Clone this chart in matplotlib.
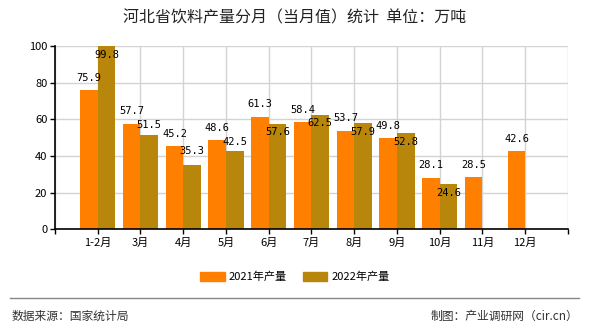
import matplotlib
matplotlib.use("Agg")
import matplotlib.pyplot as plt
import numpy as np
from matplotlib.patches import Patch

plt.rcParams['font.family'] = ['Noto Sans CJK SC', 'DejaVu Sans']

months = ["1-2月", "3月", "4月", "5月", "6月", "7月", "8月", "9月", "10月", "11月", "12月"]
prod_2021 = [75.9, 57.7, 45.2, 48.6, 61.3, 58.4, 53.7, 49.8, 28.1, 28.5, 42.6]
prod_2022 = [99.8, 51.5, 35.3, 42.5, 57.6, 62.5, 57.9, 52.8, 24.6, None, None]

# label centre offset from bar top, in points (negative = inside the bar)
dy_2021 = 9
dy_2022 = [-6.5, 7, 9.5, 6.5, -6, -6, -6.5, -6.5, -6]

c2021 = "#FF8000"
c2022 = "#B8860B"

fig = plt.figure(figsize=(5.9, 3.3), dpi=100)
ax = fig.add_axes([0.0932, 0.3052, 0.8695, 0.5554])

x = np.arange(len(months))
w = 0.41
ax.bar(x - w / 2, prod_2021, width=w, color=c2021, zorder=2)
x22 = [i for i, v in enumerate(prod_2022) if v is not None]
v22 = [v for v in prod_2022 if v is not None]
ax.bar(np.array(x22) + w / 2, v22, width=w, color=c2022, zorder=2)

for i, v in enumerate(prod_2021):
    ax.annotate(f"{v}", (i - w / 2, v), xytext=(0, dy_2021), textcoords="offset points",
                ha="center", va="center", fontsize=7.5, family="DejaVu Sans Mono", zorder=3)
for i, v, d in zip(x22, v22, dy_2022):
    ax.annotate(f"{v}", (i + w / 2, v), xytext=(0, d), textcoords="offset points",
                ha="center", va="center", fontsize=7.5, family="DejaVu Sans Mono", zorder=3)

ax.set_xlim(-1, 11)
ax.set_ylim(0, 100)
ax.set_yticks(range(0, 101, 20))
ax.set_xticks(range(-1, 12))
ax.set_xticklabels([""] + months + [""])
ax.tick_params(axis="both", length=3.5, width=1, colors="black", labelsize=8, pad=2)
ax.tick_params(axis="x", pad=3)
ax.grid(True, color="#d3d3d3", linewidth=1, zorder=0)
for s in ["top", "right"]:
    ax.spines[s].set_visible(False)
for s in ["left", "bottom"]:
    ax.spines[s].set_linewidth(1.2)
    ax.spines[s].set_zorder(4)

fig.text(0.5, 1 - 18 / 330, "河北省饮料产量分月（当月值）统计  单位：万吨", ha="center", va="center",
         fontsize=11.5, color="#222222")

handles = [Patch(color=c2021, label="2021年产量"), Patch(color=c2022, label="2022年产量")]
fig.legend(handles=handles, loc="center", bbox_to_anchor=(0.5, 1 - 277 / 330), ncol=2, frameon=False,
           fontsize=8, handlelength=2.2, handleheight=0.9, handletextpad=0.4, columnspacing=1.4)

fig.add_artist(plt.Line2D([10 / 590, 579 / 590], [1 - 298 / 330, 1 - 298 / 330], color="#888888", linewidth=1))
fig.text(12 / 590, 1 - 316 / 330, "数据来源：国家统计局", ha="left", va="center", fontsize=8.5, color="#333333")
fig.text(578 / 590, 1 - 316 / 330, "制图：产业调研网（cir.cn）", ha="right", va="center", fontsize=8.5, color="#333333")

fig.savefig("out.png", dpi=100)
